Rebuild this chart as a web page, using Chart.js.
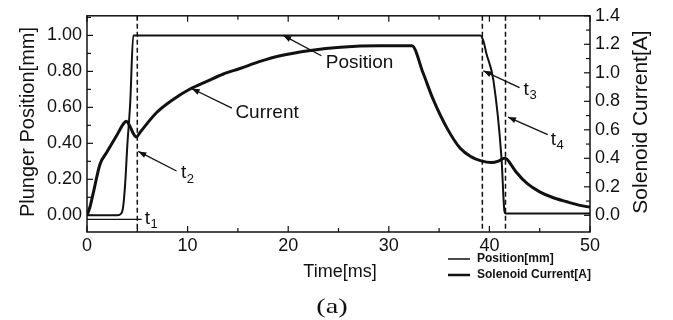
<!DOCTYPE html>
<html><head><meta charset="utf-8">
<script src="https://cdn.jsdelivr.net/npm/chart.js@4/dist/chart.umd.min.js"></script>
<style>html,body{margin:0;padding:0;background:#fff}#wrap{width:673px;height:320px;position:relative}</style>
</head><body><div id="wrap"><canvas id="c" width="673" height="320"></canvas></div>
<script>
// ---- data ----
const positionTime = [0, 1, 2, 3, 3.4, 3.6, 3.8, 4.0, 4.3, 4.6, 10, 20, 30, 39.1, 39.4, 39.7, 40.4, 41.2, 41.5, 41.6, 45, 50];
const positionMm   = [0, 0, 0, 0, 0.01, 0.05, 0.18, 0.38, 0.63, 1.0, 1.0, 1.0, 1.0, 1.0, 0.97, 0.9, 0.75, 0.32, 0.02, 0.01, 0.01, 0.01];
const currentTime = [0, 0.3, 0.6, 1.3, 1.95, 2.95, 3.6, 3.9, 4.3, 4.6, 4.9, 5.3, 6.9, 8.6, 10.2, 11.9, 13.5, 15.2, 17.2, 19.2, 22.2, 25.2, 29.1, 32.3, 33.4, 34.4, 35.8, 37.1, 38.2, 39.1, 40.2, 40.9, 41.5, 41.8, 42.2, 42.7, 43.8, 45, 46.3, 47.7, 49, 50];
const currentA    = [0, 0.06, 0.15, 0.36, 0.44, 0.56, 0.64, 0.66, 0.62, 0.575, 0.55, 0.585, 0.72, 0.815, 0.885, 0.94, 0.99, 1.03, 1.08, 1.12, 1.157, 1.18, 1.19, 1.19, 1.0, 0.815, 0.61, 0.47, 0.41, 0.384, 0.37, 0.38, 0.40, 0.39, 0.35, 0.30, 0.22, 0.165, 0.125, 0.095, 0.07, 0.057];
const xTicks = [0, 10, 20, 30, 40, 50];
const leftTicks = [0, 0.2, 0.4, 0.6, 0.8, 1.0];
const rightTicks = [0, 0.2, 0.4, 0.6, 0.8, 1.0, 1.2, 1.4];
const markerTimes = [5.0, 39.3, 41.6];
const seriesNames = ['Position[mm]', 'Solenoid Current[A]'];

const INK = '#111';
const SANS = '"Liberation Sans", Arial, sans-serif';

function pts(xs, ys){ return xs.map((x,i)=>({x:x, y:ys[i]})); }

const annot = {
  id: 'annot',
  beforeDatasetsDraw(chart){
    const {ctx, chartArea:a, scales:{x}} = chart;
    ctx.save();
    ctx.strokeStyle = INK; ctx.lineWidth = 1.5; ctx.setLineDash([5,3]);
    markerTimes.forEach(t=>{
      const px = x.getPixelForValue(t);
      ctx.beginPath(); ctx.moveTo(px, a.top); ctx.lineTo(px, a.bottom); ctx.stroke();
    });
    ctx.restore();
  },
  afterDatasetsDraw(chart){
    const {ctx, chartArea:a, scales:{x, yL, yR}} = chart;
    ctx.save();
    ctx.strokeStyle = INK; ctx.fillStyle = INK;
    // frame
    ctx.lineWidth = 1.5;
    ctx.strokeRect(a.left, a.top, a.right-a.left, a.bottom-a.top);
    // inward ticks
    ctx.lineWidth = 1.2;
    for (let v=0; v<=50; v+=5){
      const px = x.getPixelForValue(v); const L = v%10===0 ? 6 : 4;
      ctx.beginPath(); ctx.moveTo(px,a.bottom); ctx.lineTo(px,a.bottom-L); ctx.moveTo(px,a.top); ctx.lineTo(px,a.top+L); ctx.stroke();
    }
    for (let i=-0; i<=11; i++){
      const v = i/10; const py = yL.getPixelForValue(v); if (py < a.top) continue;
      const L = i%2===0 ? 6 : 4;
      ctx.beginPath(); ctx.moveTo(a.left,py); ctx.lineTo(a.left+L,py); ctx.stroke();
    }
    for (let i=0; i<=14; i++){
      const v = i/10; const py = yR.getPixelForValue(v);
      const L = i%2===0 ? 6 : 4;
      ctx.beginPath(); ctx.moveTo(a.right,py); ctx.lineTo(a.right-L,py); ctx.stroke();
    }
    const P = (t,v)=>[x.getPixelForValue(t), yL.getPixelForValue(v)];
    function arrow(t1,v1,t2,v2){
      const [x1,y1]=P(t1,v1), [x2,y2]=P(t2,v2);
      ctx.lineWidth = 1.3;
      ctx.beginPath(); ctx.moveTo(x1,y1); ctx.lineTo(x2,y2); ctx.stroke();
      const ang = Math.atan2(y2-y1, x2-x1), L=8, W=3;
      ctx.beginPath(); ctx.moveTo(x2,y2);
      ctx.lineTo(x2 - L*Math.cos(ang) + W*Math.sin(ang), y2 - L*Math.sin(ang) - W*Math.cos(ang));
      ctx.lineTo(x2 - L*Math.cos(ang) - W*Math.sin(ang), y2 - L*Math.sin(ang) + W*Math.cos(ang));
      ctx.closePath(); ctx.fill();
    }
    function label(txt, t, v, align){
      const [px,py]=P(t,v);
      ctx.font = '19px '+SANS; ctx.textAlign = align||'center'; ctx.textBaseline='middle';
      ctx.fillText(txt, px, py);
    }
    function tsub(sub, t, v){
      const [px,py]=P(t,v);
      ctx.font = '19px '+SANS; ctx.textAlign='left'; ctx.textBaseline='middle';
      ctx.fillText('t', px, py);
      const w = ctx.measureText('t').width;
      ctx.font = '13px '+SANS; ctx.fillText(sub, px+w+0.5, py+6);
    }
    arrow(23.3,0.887,19.5,1.0); label('Position', 27.1, 0.847);
    arrow(14.4,0.596,10.4,0.705); label('Current', 17.9, 0.57);
    arrow(8.9,0.246,5.1,0.355); tsub('2', 9.35, 0.235);
    ctx.lineWidth = 1.3;
    { const [x1,y1]=P(0,-0.023), [x2]=P(5.44,-0.023); ctx.beginPath(); ctx.moveTo(x1,y1); ctx.lineTo(x2,y1); ctx.stroke(); }
    tsub('1', 5.75, -0.02);
    arrow(43.0,0.71,39.4,0.803); tsub('3', 43.4, 0.70);
    arrow(45.8,0.448,41.85,0.546); tsub('4', 46.1, 0.42);

    // axis titles
    ctx.font = '20px '+SANS; ctx.textAlign='center'; ctx.textBaseline='middle';
    ctx.save(); ctx.translate(28,122); ctx.rotate(-Math.PI/2); ctx.fillText('Plunger Position[mm]',0,0); ctx.restore();
    ctx.font = '21px '+SANS;
    ctx.save(); ctx.translate(641,122); ctx.rotate(-Math.PI/2); ctx.fillText('Solenoid Current[A]',0,0); ctx.restore();
    ctx.font = '18px '+SANS; ctx.fillText('Time[ms]', 340, 272);
    // legend
    ctx.textAlign='left'; ctx.font = 'bold 12px '+SANS;
    ctx.lineWidth = 1.5; ctx.beginPath(); ctx.moveTo(448,259); ctx.lineTo(470,259); ctx.stroke();
    ctx.fillText(seriesNames[0], 477, 259);
    ctx.lineWidth = 2.5; ctx.beginPath(); ctx.moveTo(448,275); ctx.lineTo(470,275); ctx.stroke();
    ctx.fillText(seriesNames[1], 477, 275);
    // (a)
    ctx.save(); ctx.translate(332,307); ctx.scale(1.35,1);
    ctx.font = '21px "Liberation Serif", "Times New Roman", serif'; ctx.textAlign='center';
    ctx.fillText('(a)',0,0); ctx.restore();
    ctx.restore();
  }
};

const tickFont = {family: SANS, size: 18};
new Chart(document.getElementById('c'), {
  type: 'line',
  data: { datasets: [
    { label: seriesNames[0], data: pts(positionTime, positionMm), yAxisID: 'yL', borderColor: INK, borderWidth: 2, pointRadius: 0, cubicInterpolationMode: 'monotone', fill: false },
    { label: seriesNames[1], data: pts(currentTime, currentA), yAxisID: 'yR', borderColor: INK, borderWidth: 3, pointRadius: 0, cubicInterpolationMode: 'monotone', fill: false }
  ]},
  options: {
    responsive: false, devicePixelRatio: 1, animation: false,
    layout: { padding: { top: 12, left: 0, right: 0, bottom: 0 } },
    plugins: { legend: {display:false}, tooltip: {enabled:false} },
    scales: {
      x: { type:'linear', min:0, max:50,
        afterBuildTicks: s=>{ s.ticks = xTicks.map(v=>({value:v})); },
        afterFit: s=>{ s.height = 88; },
        ticks: { font: tickFont, color: INK, padding: 3, maxRotation:0, autoSkip:false },
        grid: { display:false, drawTicks:false }, border: {display:false} },
      yL: { position:'left', min:-0.093, max:1.109,
        afterBuildTicks: s=>{ s.ticks = leftTicks.map(v=>({value:v})); },
        afterFit: s=>{ s.width = 87; },
        ticks: { font: tickFont, color: INK, padding: 5, autoSkip:false, callback: v=>Number(v).toFixed(2) },
        grid: { display:false, drawTicks:false }, border: {display:false} },
      yR: { position:'right', min:-0.117, max:1.4,
        afterBuildTicks: s=>{ s.ticks = rightTicks.map(v=>({value:v})); },
        afterFit: s=>{ s.width = 83; },
        ticks: { font: tickFont, color: INK, padding: 5, autoSkip:false, callback: v=>Number(v).toFixed(1) },
        grid: { display:false, drawTicks:false }, border: {display:false} }
    }
  },
  plugins: [annot]
});
</script></body></html>
